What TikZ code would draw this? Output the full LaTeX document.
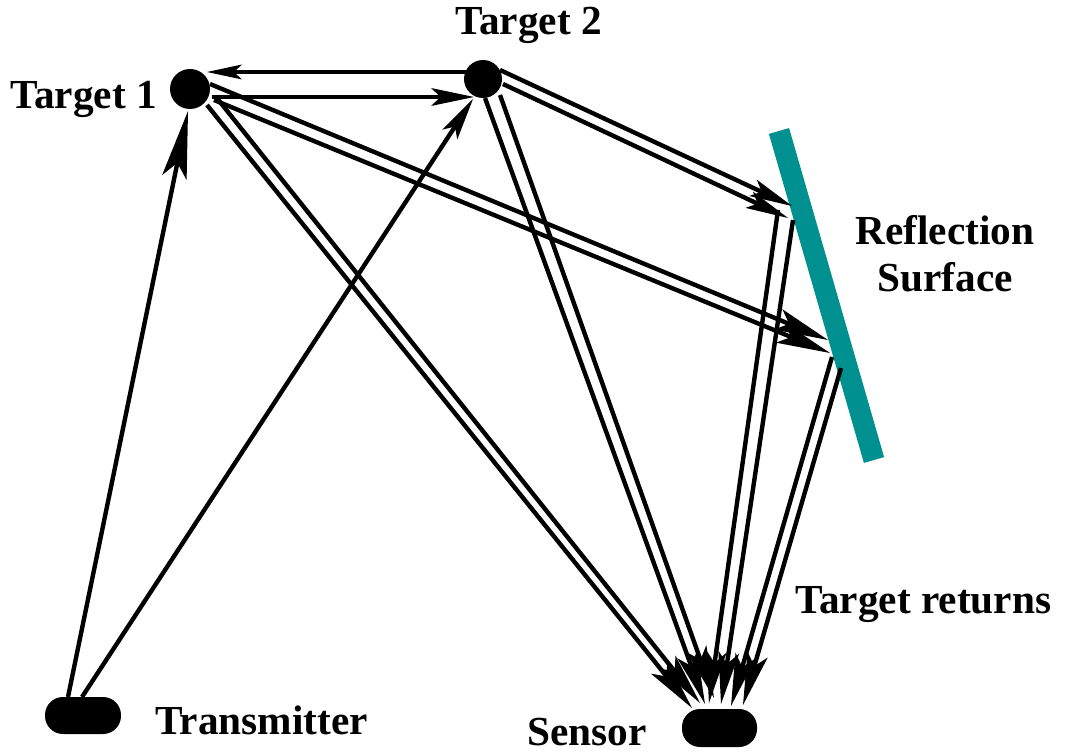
\documentclass[tikz,border=0pt]{standalone}
\usepackage{fontspec}
\setmainfont{Liberation Serif}
\usetikzlibrary{arrows.meta}
\definecolor{surf}{RGB}{0,144,144}
\tikzset{
  lbl/.style={font=\bfseries\fontsize{23.5}{27}\selectfont, inner sep=0pt},
  dev/.style={fill=black, rounded corners=0.36cm, minimum width=1.52cm, minimum height=0.74cm, inner sep=0pt},
  tgt/.style={circle, fill=black, inner sep=0pt},
  surface/.style={line width=0.42cm, draw=surf},
  ray/.style n args={3}{line width=2.5pt, -{Stealth[length=#1, width=#2, inset=#3, line width=0pt]}},
  sray/.style={ray={1.05cm}{0.42cm}{0.24cm}}
}
\begin{document}
\begin{tikzpicture}[x=0.02cm, y=-0.02cm]
\useasboundingbox (0,0) rectangle (1074,756);

% reflection surface
\coordinate (rtop) at (779,131);
\coordinate (rbot) at (874,460);
\draw[surface] (rtop) -- (rbot);

% nodes
\node[tgt, minimum size=0.8cm] (t1) at (190,89) {};
\node[tgt, minimum size=0.76cm] (t2) at (483,79) {};
\node[dev] (tx) at (83,715.5) {};
\node[dev, minimum width=1.5cm, minimum height=0.76cm] (sx) at (719.5,728) {};

% labels
\node[lbl, anchor=base west] (lt1) at (10,109) {Target 1};
\node[lbl, anchor=base west] (lt2) at (455,35) {Target 2};
\node[lbl, anchor=base, align=center] (lrs) at (945,292) {Reflection\\Surface};
\node[lbl, anchor=base west] (ltr) at (795,613) {Target returns};
\node[lbl, anchor=base west] (ltx) at (155,734) {Transmitter};
\node[lbl, anchor=base west] (lsx) at (527,745) {Sensor};

% endpoints
\coordinate (txa) at (68,697);   \coordinate (t1in) at (188,111);
\coordinate (txb) at (82,697);   \coordinate (t2in) at (473,99);
\coordinate (t2l) at (466,72);   \coordinate (t1r) at (207,72);
\coordinate (t1o) at (212,97);   \coordinate (t2i) at (474,97);

\coordinate (d1as) at (210,84);  \coordinate (d1ae) at (828,340);
\coordinate (d1bs) at (214,100); \coordinate (d1be) at (830,353);
\coordinate (d2as) at (216,97);  \coordinate (d2ae) at (700,703);
\coordinate (d2bs) at (207,105); \coordinate (d2be) at (692,708);
\coordinate (d3as) at (500,70);  \coordinate (d3ae) at (792,206);
\coordinate (d3bs) at (503,84);  \coordinate (d3be) at (788,218);
\coordinate (d4as) at (485,98);  \coordinate (d4ae) at (705,704);
\coordinate (d4bs) at (500,95);  \coordinate (d4be) at (714,698);
\coordinate (d5as) at (778,210); \coordinate (d5ae) at (709,703);
\coordinate (d5bs) at (793,220); \coordinate (d5be) at (721,704);
\coordinate (d6as) at (832,357); \coordinate (d6ae) at (731,706);
\coordinate (d6bs) at (841,368); \coordinate (d6be) at (743,705);

% transmitter rays
\draw[ray={1.36cm}{0.5cm}{0.3cm}] (txa) -- (t1in);
\draw[ray={0.85cm}{0.36cm}{0.19cm}] (txb) -- (t2in);
% between targets
\draw[ray={0.7cm}{0.3cm}{0.16cm}] (t2l) -- (t1r);
\draw[ray={0.86cm}{0.36cm}{0.19cm}] (t1o) -- (t2i);
% target 1 to surface
\draw[ray={1.08cm}{0.44cm}{0.24cm}] (d1as) -- (d1ae);
\draw[ray={1.08cm}{0.44cm}{0.24cm}] (d1bs) -- (d1be);
% target 2 to surface
\draw[ray={0.86cm}{0.36cm}{0.19cm}] (d3as) -- (d3ae);
\draw[ray={0.86cm}{0.36cm}{0.19cm}] (d3bs) -- (d3be);
% returns to sensor
\draw[sray] (d2as) -- (d2ae);
\draw[sray] (d2bs) -- (d2be);
\draw[sray] (d4as) -- (d4ae);
\draw[sray] (d4bs) -- (d4be);
\draw[sray] (d5as) -- (d5ae);
\draw[sray] (d5bs) -- (d5be);
\draw[sray] (d6as) -- (d6ae);
\draw[sray] (d6bs) -- (d6be);
\end{tikzpicture}
\end{document}
